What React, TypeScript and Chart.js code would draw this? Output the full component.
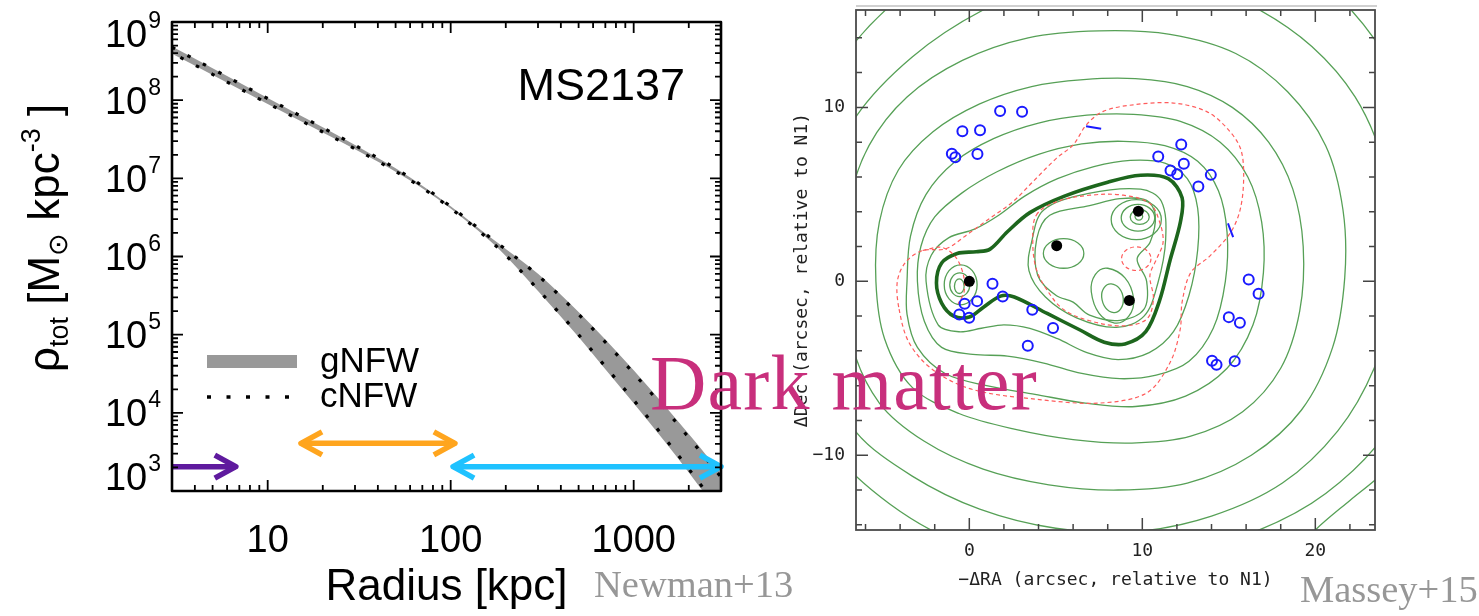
import React, { useEffect, useRef } from 'react';
import { Chart, registerables } from 'chart.js';

Chart.register(...registerables);

// ================= Left panel: MS2137 total density profile (Newman+13) =================
const radiusKpc = [3, 5, 10, 20, 30, 50, 73, 100, 166, 200, 300, 500, 700, 1000, 1500, 2000, 2500, 3000];
const gnfwUpperLog = [8.685, 8.407, 8.028, 7.653, 7.428, 7.129, 6.877, 6.642, 6.239, 6.097, 5.778, 5.289, 4.939, 4.544, 4.075, 3.728, 3.455, 3.226];
const gnfwLowerLog = [8.595, 8.323, 7.952, 7.587, 7.372, 7.085, 6.845, 6.614, 6.189, 6.007, 5.558, 4.969, 4.559, 4.124, 3.615, 3.238, 2.935, 2.686];
const cnfwUpperLog = [8.677, 8.399, 8.021, 7.647, 7.423, 7.125, 6.874, 6.639, 6.2345, 6.089, 5.758, 5.26, 4.905, 4.506, 4.034, 3.684, 3.408, 3.177];
const cnfwLowerLog = [8.603, 8.331, 7.959, 7.593, 7.377, 7.089, 6.848, 6.617, 6.1935, 6.015, 5.578, 4.998, 4.593, 4.162, 3.656, 3.282, 2.982, 2.735];
const radiusTicks = [10, 100, 1000];
const radiusTickLabels = ['10', '100', '1000'];
const densityTickExponents = [3, 4, 5, 6, 7, 8, 9];
const legendLabels = ['gNFW', 'cNFW'];
const panelLabel = 'MS2137';
const rangeArrowStart = [3, 15.2, 103];
const rangeArrowEnd = [6.7, 105.5, 3000];
const rangeArrowDensity = [2050, 4070, 2050];
const rangeArrowTwoHeaded = [false, true, true];

// ================= Right panel: Abell 3827 mass map (Massey+15) =================
const galaxies = [[0, 0], [5.05, 2.05], [9.77, 4.03], [9.25, -1.1]];
const multipleImages = [
  [1.78, 9.79], [3.05, 9.75], [-0.40, 8.63], [0.62, 8.69], [-1.01, 7.34], [-0.81, 7.13], [0.47, 7.32],
  [12.25, 7.86], [10.92, 7.18], [12.40, 6.76], [11.63, 6.37], [12.02, 6.16], [13.96, 6.12], [13.24, 5.45],
  [1.34, -0.14], [16.15, 0.11], [16.72, -0.72], [-0.27, -1.29], [0.45, -1.14], [1.93, -0.87], [3.64, -1.64],
  [-0.58, -1.91], [-0.01, -2.10], [4.84, -2.68], [3.38, -3.70], [15.0, -2.06], [15.64, -2.39],
  [14.03, -4.57], [14.29, -4.80], [15.34, -4.59],
];
const arcletA = [[6.75, 8.92], [7.62, 8.77]];
const arcletB = [[14.95, 3.33], [15.25, 2.54]];

const contourThick = [[-0.7, 1.6], [0.4, 1.7], [1.2, 1.85], [2.2, 2.85], [3.5, 3.95], [5.5, 4.9], [8.0, 5.7], [9.9, 6.1], [11.5, 5.9], [12.3, 4.8], [12.2, 3.4], [11.6, 1.2], [11.0, -1.1], [10.2, -2.9], [9.0, -3.6], [7.8, -3.5], [6.4, -2.8], [4.5, -1.85], [2.6, -0.9], [1.8, -0.85], [0.8, -1.5], [0.0, -2.05], [-0.9, -2.0], [-1.6, -1.25], [-1.9, -0.1], [-1.6, 1.05]];
const contour1 = [[-2.5, 0.0], [-2.2, 1.5], [-1.2, 2.5], [0.3, 3.0], [1.7, 3.8], [3.2, 4.9], [5.1, 5.9], [7.2, 6.6], [9.3, 6.95], [11.3, 6.8], [12.6, 5.9], [13.2, 4.2], [13.2, 1.8], [12.7, -0.8], [11.8, -2.9], [10.4, -4.1], [8.6, -4.5], [6.8, -4.1], [5.1, -3.3], [3.5, -2.7], [2.0, -2.5], [0.7, -2.7], [-0.6, -2.9], [-1.8, -2.5]];
const contour2 = [[-3.0, 0.0], [-2.8, 2.0], [-2.0, 3.7], [-0.4, 5.1], [1.6, 6.3], [4.0, 7.3], [6.5, 7.9], [8.9, 8.05], [11.3, 7.8], [13.2, 6.9], [14.4, 5.2], [14.9, 2.8], [14.8, 0.0], [14.1, -2.7], [12.7, -4.6], [10.8, -5.4], [8.7, -5.6], [6.5, -5.3], [4.3, -4.7], [2.2, -4.3], [0.2, -4.2], [-1.6, -3.8], [-2.6, -2.3]];
const contour3 = [[-3.6, 0.0], [-3.4, 2.6], [-2.5, 5.0], [-0.8, 6.9], [1.4, 8.2], [4.0, 9.1], [6.8, 9.55], [9.5, 9.6], [12.2, 9.2], [14.5, 8.0], [16.1, 6.0], [16.9, 3.4], [17.0, 0.5], [16.4, -2.5], [14.9, -5.0], [12.5, -6.6], [9.6, -7.2], [6.7, -7.0], [3.8, -6.5], [1.0, -6.0], [-1.4, -5.3], [-3.0, -3.8], [-3.6, -1.9]];
const contour4 = [[-5.4, 0.0], [-5.2, 3.4], [-4.1, 6.4], [-2.1, 8.6], [0.6, 10.2], [3.6, 11.2], [6.6, 11.6], [9.6, 11.65], [12.6, 11.2], [15.2, 10.0], [17.3, 8.0], [18.7, 5.3], [19.3, 2.0], [19.1, -1.7], [18.0, -5.0], [15.8, -7.5], [12.8, -8.9], [9.4, -9.3], [6.0, -9.1], [2.6, -8.5], [-0.6, -7.6], [-3.3, -6.1], [-4.9, -3.3]];
const contour5 = [[-7.2, 0.5], [-7.0, 4.3], [-5.8, 7.8], [-3.6, 10.6], [-0.4, 12.7], [3.4, 14.0], [7.5, 14.4], [11.6, 14.2], [15.4, 13.1], [18.4, 10.9], [20.6, 7.8], [21.6, 4.1], [21.7, 0.2], [21.0, -3.8], [19.2, -7.4], [16.3, -10.0], [12.6, -11.6], [8.6, -12.0], [4.6, -11.7], [0.8, -10.8], [-2.6, -9.2], [-5.2, -7.0], [-6.8, -3.6]];
const contour6 = [[-9.2, 0.0], [-8.7, 5.0], [-6.6, 9.4], [-3.3, 12.9], [0.8, 15.6], [5.0, 17.2], [9.0, 17.7], [13.0, 17.2], [16.6, 15.7], [19.8, 13.5], [22.3, 10.6], [23.9, 7.0], [24.6, 3.0], [24.5, -1.0], [23.4, -5.0], [21.3, -8.6], [18.1, -11.6], [14.0, -13.5], [9.5, -14.4], [5.0, -14.2], [0.6, -13.1], [-3.3, -11.2], [-6.6, -8.6], [-8.6, -4.6]];
const contour7 = [[-11.0, 2.0], [-10.0, 7.5], [-7.4, 12.7], [-3.8, 16.5], [1.0, 19.5], [6.5, 21.0], [12.0, 21.0], [17.3, 19.3], [21.5, 16.2], [24.6, 12.0], [26.4, 7.0], [27.0, 1.5], [26.2, -4.0], [24.1, -8.7], [20.6, -12.2], [16.5, -14.4], [11.0, -16.0], [5.0, -16.4], [0.0, -15.3], [-4.6, -12.8], [-8.3, -9.2], [-10.5, -4.0]];
const contour8Arc = [[18.5, -16.0], [20.0, -14.3], [22.0, -12.6], [23.6, -11.3], [25.5, -9.5]];
const groupOuter = [[3.6, 2.25], [4.3, 4.1], [6.9, 5.05], [9.9, 5.3], [11.1, 4.6], [11.35, 2.4], [10.9, -0.1], [10.1, -2.0], [8.5, -2.65], [6.2, -2.1], [4.4, -0.9], [3.45, 0.6]];
const groupTrefoil = [[3.9, 2.45], [4.65, 3.8], [6.95, 4.35], [8.7, 4.75], [10.25, 4.65], [10.75, 3.8], [10.45, 2.25], [9.7, 1.3], [10.25, 0.0], [10.1, -1.6], [8.7, -2.25], [6.95, -1.95], [6.0, -1.2], [5.0, -0.8], [3.95, 0.35]];
const loopNE1 = [[9.65, 4.7], [11.1, 3.55], [9.65, 2.4], [8.2, 3.55]];
const loopNE2 = [[9.75, 4.42], [10.72, 3.65], [9.75, 2.88], [8.78, 3.65]];
const loopNE3 = [[9.85, 4.13], [10.4, 3.7], [9.85, 3.27], [9.3, 3.7]];
const loopNE4 = [[9.8, 3.92], [10.02, 3.72], [9.8, 3.52], [9.58, 3.72]];
const loopCentral = [[5.45, 2.45], [6.62, 1.6], [5.45, 0.75], [4.28, 1.6]];
const loopSouth1 = [[8.0, 0.75], [9.5, -1.0], [8.4, -2.4], [7.05, -0.6]];
const loopSouth2 = [[8.2, -0.15], [8.9, -1.0], [8.35, -1.8], [7.65, -0.9]];
const loopN1a = [[-0.5, 0.95], [0.45, -0.2], [-0.5, -1.35], [-1.45, -0.2]];
const loopN1b = [[-0.55, 0.48], [0.03, -0.2], [-0.55, -0.88], [-1.13, -0.2]];
const loopN1c = [[-0.58, 0.14], [-0.3, -0.28], [-0.58, -0.7], [-0.86, -0.28]];
const criticalOuter = [[-4.16, 0], [-4.06, -1.6], [-3.48, -3.53], [-2.13, -5.07], [0.19, -6.22], [4.06, -6.8], [7.54, -7.0], [10.25, -6.42], [11.6, -4.68], [12.19, -2.76], [12.3, -1.2], [12.8, 0.5], [13.9, 1.45], [15.1, 2.8], [15.67, 4.18], [15.86, 6.1], [15.67, 7.65], [14.9, 8.8], [13.7, 9.77], [11.8, 10.25], [9.48, 10.15], [7.74, 9.77], [6.77, 9.0], [6.0, 7.84], [5.03, 7.07], [3.67, 5.72], [2.51, 4.57], [1.16, 3.6], [-0.19, 2.64], [-1.35, 1.87], [-2.7, 1.77], [-3.68, 1.1]];
const criticalInner = [[3.67, 2.25], [3.87, 3.8], [5.03, 4.57], [6.96, 4.95], [8.9, 4.95], [10.44, 4.47], [11.0, 3.41], [11.2, 2.25], [10.83, 1.29], [10.44, 0.33], [10.64, -1.02], [10.25, -2.18], [8.9, -2.56], [6.96, -2.27], [5.42, -1.6], [4.45, -0.44], [3.87, 0.71]];
const criticalSmall = [[9.65, 1.98], [10.5, 1.3], [9.65, 0.62], [8.8, 1.3]];
const criticalN1Arc = [[-2.7, 1.77], [-1.6, 1.95], [-0.8, 1.4], [-0.35, 0.4], [-0.3, -0.6], [-0.65, -1.3]];
const raTicks = [0, 10, 20];
const decTicks = [-10, 0, 10];

const SANS = '"Liberation Sans", Arial, Helvetica, sans-serif';
const MONO = '"DejaVu Sans Mono", "Liberation Mono", monospace';
const SERIF = '"Liberation Serif", "Times New Roman", serif';

function toPts(arr: number[][]) {
  return arr.map(([x, y]) => ({ x, y }));
}
function closedLoop(arr: number[][]) {
  return toPts([...arr, arr[0], arr[1], arr[2]]);
}
function loopSegment(n: number) {
  return {
    borderColor: (c: any) => (c.p0DataIndex === 0 || c.p1DataIndex === n - 1 ? 'rgba(0,0,0,0)' : undefined),
  };
}

function drawRuns(ctx: any, runs: any[], baseX: number, baseY: number) {
  let x = baseX;
  for (const r of runs) {
    ctx.font = `${r.s}px ${SANS}`;
    ctx.fillText(r.t, x, baseY + r.dy);
    x += ctx.measureText(r.t).width;
  }
}

const leftDecor = {
  id: 'leftDecor',
  afterDatasetsDraw(chart: any) {
    const { ctx, chartArea: a, scales } = chart;
    const xs = scales.x;
    const ys = scales.y;
    ctx.save();
    const arrowColors = ['#5f1a9e', '#ffa51e', '#1fc2ff'];
    for (let i = 0; i < rangeArrowStart.length; i++) {
      const x1 = xs.getPixelForValue(rangeArrowStart[i]);
      const x2 = xs.getPixelForValue(rangeArrowEnd[i]);
      const y = ys.getPixelForValue(rangeArrowDensity[i]);
      ctx.strokeStyle = arrowColors[i];
      ctx.lineWidth = 5.5;
      ctx.lineCap = 'butt';
      ctx.lineJoin = 'round';
      ctx.beginPath();
      ctx.moveTo(x1, y);
      ctx.lineTo(x2, y);
      ctx.stroke();
      const L = 24;
      const dx = L * Math.cos(0.5);
      const dy = L * Math.sin(0.5);
      ctx.beginPath();
      ctx.moveTo(x2 - dx, y - dy);
      ctx.lineTo(x2, y);
      ctx.lineTo(x2 - dx, y + dy);
      ctx.stroke();
      if (rangeArrowTwoHeaded[i]) {
        ctx.beginPath();
        ctx.moveTo(x1 + dx, y - dy);
        ctx.lineTo(x1, y);
        ctx.lineTo(x1 + dx, y + dy);
        ctx.stroke();
      }
    }
    ctx.strokeStyle = '#000';
    ctx.lineWidth = 1.8;
    ctx.lineCap = 'butt';
    for (let e = 0; e <= 3; e++) {
      for (let m = 1; m <= 9; m++) {
        const v = m * Math.pow(10, e);
        if (v < 3 || v > 3000) continue;
        const px = xs.getPixelForValue(v);
        const len = m === 1 ? 11 : 6;
        ctx.beginPath();
        ctx.moveTo(px, a.bottom);
        ctx.lineTo(px, a.bottom - len);
        ctx.moveTo(px, a.top);
        ctx.lineTo(px, a.top + len);
        ctx.stroke();
      }
    }
    for (let e = 3; e <= 9; e++) {
      for (let m = 1; m <= 9; m++) {
        const v = m * Math.pow(10, e);
        if (v > 1e9) continue;
        const py = ys.getPixelForValue(v);
        const len = m === 1 ? 11 : 6;
        ctx.beginPath();
        ctx.moveTo(a.left, py);
        ctx.lineTo(a.left + len, py);
        ctx.moveTo(a.right, py);
        ctx.lineTo(a.right - len, py);
        ctx.stroke();
      }
    }
    ctx.lineWidth = 2.6;
    ctx.strokeRect(a.left, a.top, a.right - a.left, a.bottom - a.top);
    ctx.fillStyle = '#000';
    ctx.textBaseline = 'alphabetic';
    for (const e of densityTickExponents) {
      const py = ys.getPixelForValue(Math.pow(10, e));
      const cy = Math.min(Math.max(py, a.top + 11.5), a.bottom - 15);
      ctx.font = `23px ${SANS}`;
      const sup = String(e);
      const supW = ctx.measureText(sup).width;
      ctx.font = `38px ${SANS}`;
      const tenW = ctx.measureText('10').width;
      const right = a.left - 11;
      ctx.textAlign = 'left';
      ctx.fillText('10', right - supW - 1 - tenW, cy + 13.5);
      ctx.font = `23px ${SANS}`;
      ctx.fillText(sup, right - supW, cy + 13.5 - 19);
    }
    ctx.font = `38px ${SANS}`;
    ctx.textAlign = 'center';
    radiusTicks.forEach((v, i) => {
      ctx.fillText(radiusTickLabels[i], xs.getPixelForValue(v), a.bottom + 61);
    });
    ctx.font = `44px ${SANS}`;
    ctx.fillText('Radius [kpc]', (a.left + a.right) / 2, a.bottom + 109);
    ctx.save();
    ctx.translate(59, 372);
    ctx.rotate(-Math.PI / 2);
    ctx.textAlign = 'left';
    drawRuns(ctx, [
      { t: 'ρ', s: 44, dy: 0 },
      { t: 'tot', s: 27, dy: 9 },
      { t: ' [M', s: 44, dy: 0 },
      { t: '⊙', s: 27, dy: 8 },
      { t: ' kpc', s: 44, dy: 0 },
      { t: '-3', s: 27, dy: -19 },
      { t: ' ]', s: 44, dy: 0 },
    ], 0, 0);
    ctx.restore();
    ctx.font = `45px ${SANS}`;
    ctx.textAlign = 'right';
    ctx.fillText(panelLabel, a.right - 36, a.top + 78);
    ctx.fillStyle = '#999999';
    ctx.fillRect(207, 355, 90, 13);
    ctx.strokeStyle = '#000';
    ctx.lineWidth = 3.5;
    ctx.setLineDash([4, 15.5]);
    ctx.beginPath();
    ctx.moveTo(207, 397);
    ctx.lineTo(292, 397);
    ctx.stroke();
    ctx.setLineDash([]);
    ctx.fillStyle = '#000';
    ctx.font = `35px ${SANS}`;
    ctx.textAlign = 'left';
    ctx.fillText(legendLabels[0], 320, 372);
    ctx.fillText(legendLabels[1], 320, 407);
    ctx.restore();
  },
};

const rightDecor = {
  id: 'rightDecor',
  afterDatasetsDraw(chart: any) {
    const { ctx, chartArea: a, scales } = chart;
    const xs = scales.x;
    const ys = scales.y;
    ctx.save();
    ctx.strokeStyle = '#d0d0d0';
    ctx.lineWidth = 2;
    ctx.beginPath();
    ctx.moveTo(a.left, a.top - 4);
    ctx.lineTo(a.right + 2, a.top - 4);
    ctx.stroke();
    ctx.strokeStyle = '#444';
    ctx.lineWidth = 1.5;
    for (let v = -6; v <= 23; v += 2) {
      const px = xs.getPixelForValue(v);
      const len = v % 10 === 0 ? 12 : 6;
      ctx.beginPath();
      ctx.moveTo(px, a.bottom);
      ctx.lineTo(px, a.bottom - len);
      ctx.moveTo(px, a.top);
      ctx.lineTo(px, a.top + len);
      ctx.stroke();
    }
    for (let v = -14; v <= 15; v += 2) {
      const py = ys.getPixelForValue(v);
      const len = v % 10 === 0 ? 12 : 6;
      ctx.beginPath();
      ctx.moveTo(a.left, py);
      ctx.lineTo(a.left + len, py);
      ctx.moveTo(a.right, py);
      ctx.lineTo(a.right - len, py);
      ctx.stroke();
    }
    ctx.lineWidth = 1.8;
    ctx.strokeStyle = '#4a4a4a';
    ctx.strokeRect(a.left, a.top, a.right - a.left, a.bottom - a.top);
    ctx.fillStyle = '#222';
    ctx.font = `18px ${MONO}`;
    ctx.textBaseline = 'middle';
    ctx.textAlign = 'center';
    raTicks.forEach((v) => ctx.fillText(String(v), xs.getPixelForValue(v), a.bottom + 21));
    ctx.textAlign = 'right';
    decTicks.forEach((v) => ctx.fillText(v < 0 ? '\u2212' + String(-v) : String(v), a.left - 11, ys.getPixelForValue(v)));
    ctx.textAlign = 'center';
    ctx.fillText('\u2212\u0394RA (arcsec, relative to N1)', (a.left + a.right) / 2, a.bottom + 50);
    ctx.save();
    ctx.translate(a.left - 54, (a.top + a.bottom) / 2);
    ctx.rotate(-Math.PI / 2);
    ctx.fillText('\u0394Dec (arcsec, relative to N1)', 0, 0);
    ctx.restore();
    ctx.restore();
  },
};

function leftConfig() {
  const pts = (vals: number[]) => radiusKpc.map((r, i) => ({ x: r, y: Math.pow(10, vals[i]) }));
  return {
    type: 'line',
    data: {
      datasets: [
        { data: pts(gnfwUpperLog), borderWidth: 0, backgroundColor: '#999999', fill: '+1', pointRadius: 0, order: 2, cubicInterpolationMode: 'monotone' },
        { data: pts(gnfwLowerLog), borderWidth: 0, fill: false, pointRadius: 0, order: 2, cubicInterpolationMode: 'monotone' },
        { data: pts(cnfwUpperLog), borderColor: '#000', borderWidth: 3.2, borderDash: [3.5, 14], fill: false, pointRadius: 0, order: 0, cubicInterpolationMode: 'monotone' },
        { data: pts(cnfwLowerLog), borderColor: '#000', borderWidth: 3.2, borderDash: [3.5, 14], borderDashOffset: 8, fill: false, pointRadius: 0, order: 0, cubicInterpolationMode: 'monotone' },
      ],
    },
    options: {
      animation: false,
      responsive: false,
      events: [],
      layout: { padding: { left: 172, right: 39, top: 22, bottom: 125 } },
      scales: {
        x: { type: 'logarithmic', min: 3, max: 3000, display: false },
        y: { type: 'logarithmic', min: 1000, max: 1e9, display: false },
      },
      plugins: { legend: { display: false }, tooltip: { enabled: false } },
    },
    plugins: [leftDecor],
  };
}

function rightConfig() {
  const green = '#56a056';
  const red = '#ff5c5c';
  const loops: any[] = [];
  const addLoop = (arr: number[][], color: string, width: number, tension: number, dash: number[] | undefined, order: number) => {
    const data = closedLoop(arr);
    loops.push({
      data, showLine: true, borderColor: color, borderWidth: width, tension, pointRadius: 0,
      borderDash: dash || [], fill: false, order, segment: loopSegment(data.length),
    });
  };
  [contour1, contour2, contour3, contour4, contour5, contour6, contour7].forEach((c) => addLoop(c, green, 1.3, 0.33, undefined, 4));
  [groupOuter, groupTrefoil].forEach((c) => addLoop(c, green, 1.3, 0.35, undefined, 4));
  [loopNE1, loopNE2, loopNE3, loopNE4, loopCentral, loopSouth1, loopSouth2, loopN1a, loopN1b, loopN1c].forEach((c) => addLoop(c, green, 1.3, 0.55, undefined, 4));
  addLoop(contourThick, '#1d661d', 3.6, 0.33, undefined, 3);
  addLoop(criticalOuter, red, 1.2, 0.33, [4, 3], 2);
  addLoop(criticalInner, red, 1.2, 0.35, [4, 3], 2);
  addLoop(criticalSmall, red, 1.2, 0.55, [4, 3], 2);
  const open = [
    { data: toPts(contour8Arc), showLine: true, borderColor: green, borderWidth: 1.3, tension: 0.33, pointRadius: 0, order: 4 },
    { data: toPts(criticalN1Arc), showLine: true, borderColor: red, borderWidth: 1.2, borderDash: [4, 3], tension: 0.33, pointRadius: 0, order: 2 },
    { data: toPts(arcletA), showLine: true, borderColor: '#1a1aff', borderWidth: 2, pointRadius: 0, order: 1 },
    { data: toPts(arcletB), showLine: true, borderColor: '#1a1aff', borderWidth: 2, pointRadius: 0, order: 1 },
    { data: toPts(multipleImages), showLine: false, pointRadius: 5, pointBorderWidth: 2, pointBorderColor: '#1a1aff', pointBackgroundColor: 'rgba(0,0,0,0)', order: 0 },
    { data: toPts(galaxies), showLine: false, pointRadius: 5.5, pointBorderWidth: 0, pointBackgroundColor: '#000', pointBorderColor: '#000', order: 0 },
  ];
  return {
    type: 'scatter',
    data: { datasets: [...loops, ...open] },
    options: {
      animation: false,
      responsive: false,
      events: [],
      layout: { padding: { left: 96, right: 104, top: 10, bottom: 86 } },
      elements: { line: { capBezierPoints: false } },
      scales: {
        x: { type: 'linear', min: -6.55, max: 23.45, display: false },
        y: { type: 'linear', min: -14.3, max: 15.6, display: false },
      },
      plugins: { legend: { display: false }, tooltip: { enabled: false } },
    },
    plugins: [rightDecor],
  };
}

function ChartCanvas({ config, left, width }: { config: () => any; left: number; width: number }) {
  const ref = useRef<HTMLCanvasElement | null>(null);
  useEffect(() => {
    if (!ref.current) return;
    const chart = new Chart(ref.current, config());
    return () => chart.destroy();
  }, []);
  return (
    <canvas
      ref={ref}
      width={width}
      height={616}
      style={{ position: 'absolute', left, top: 0, width, height: 616 }}
    />
  );
}

export default function App() {
  return (
    <div style={{ position: 'absolute', left: 0, top: 0, width: 1479, height: 616, background: '#fff', overflow: 'hidden' }}>
      <ChartCanvas config={leftConfig} left={0} width={760} />
      <ChartCanvas config={rightConfig} left={760} width={719} />
      <div style={{ position: 'absolute', left: 594, top: 565, font: `38.5px ${SERIF}`, lineHeight: 1, color: '#979797', whiteSpace: 'nowrap' }}>Newman+13</div>
      <div style={{ position: 'absolute', left: 1300, top: 570, font: `38.5px ${SERIF}`, lineHeight: 1, color: '#979797', whiteSpace: 'nowrap' }}>Massey+15</div>
      <div style={{ position: 'absolute', left: 650, top: 344, font: `78px ${SERIF}`, lineHeight: 1, letterSpacing: '1.2px', color: '#c82f7c', whiteSpace: 'nowrap' }}>Dark matter</div>
    </div>
  );
}
